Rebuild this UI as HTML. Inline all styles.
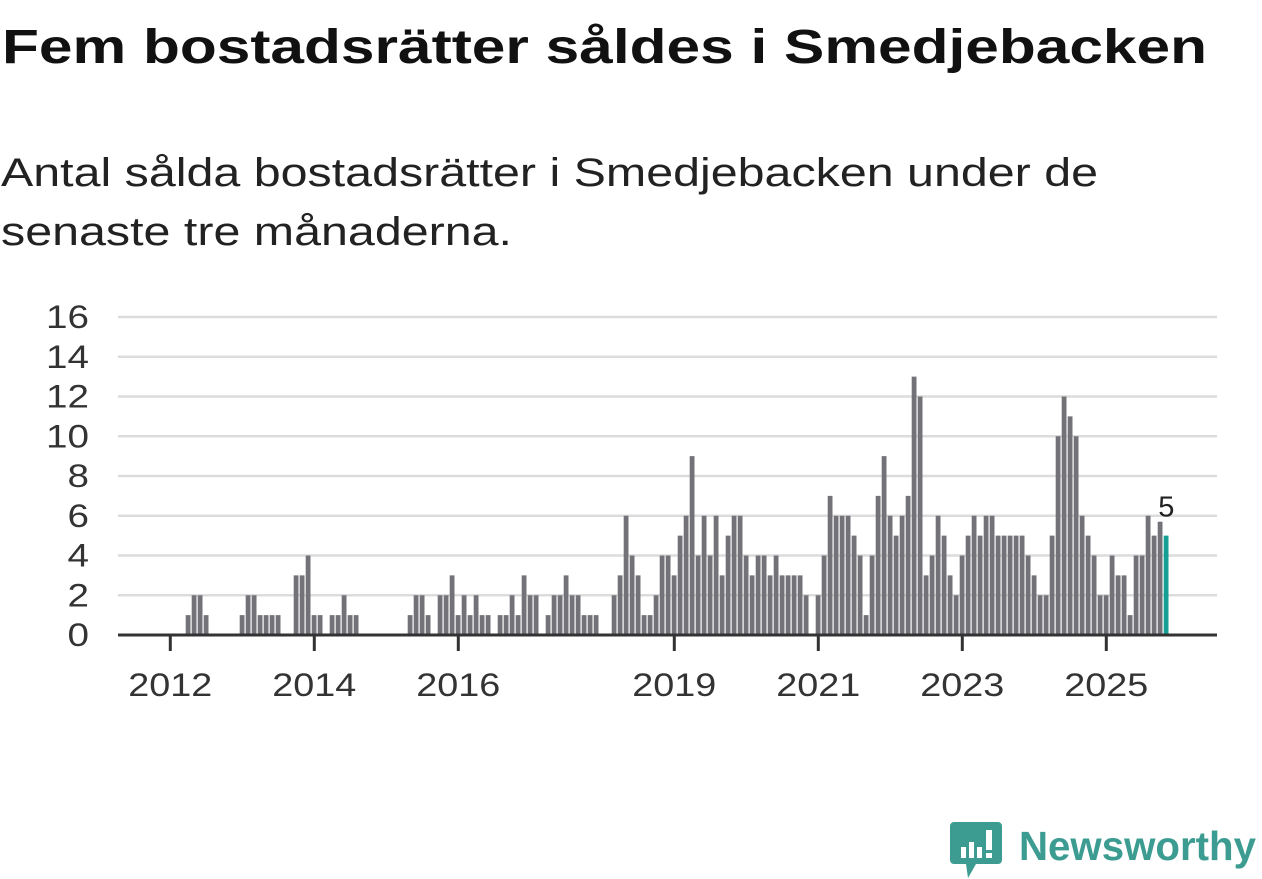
<!DOCTYPE html>
<html><head><meta charset="utf-8"><style>
html,body{margin:0;padding:0;background:#fff;}
body{width:1262px;height:879px;overflow:hidden;position:relative;font-family:"Liberation Sans",sans-serif;}
svg{position:absolute;left:0;top:0;}
</style></head><body>
<svg id="chart" width="1262" height="879" viewBox="0 0 1262 879">
  <text x="2" y="63" font-size="48" font-weight="bold" fill="#111" textLength="1205" lengthAdjust="spacingAndGlyphs">Fem bostadsrätter såldes i Smedjebacken</text>
  <text x="1" y="186" font-size="40" fill="#222" textLength="1097" lengthAdjust="spacingAndGlyphs">Antal sålda bostadsrätter i Smedjebacken under de</text>
  <text x="1" y="245" font-size="40" fill="#222" textLength="511" lengthAdjust="spacingAndGlyphs">senaste tre månaderna.</text>
  <g id="grid"></g>
  <g id="bars"></g>
  <g id="axis"></g>
  <g>
    <path d="M954 822 h44 a4 4 0 0 1 4 4 v34 a4 4 0 0 1 -4 4 h-22 l-8 14 l-2 -14 h-12 a4 4 0 0 1 -4 -4 v-34 a4 4 0 0 1 4 -4z" fill="#3d9c91"/>
    <rect x="961" y="847" width="5" height="11" fill="#fff"/>
    <rect x="969" y="842" width="5" height="16" fill="#fff"/>
    <rect x="977" y="847" width="5" height="11" fill="#fff"/>
    <rect x="986" y="830" width="6" height="20" fill="#fff"/>
    <rect x="986" y="853" width="6" height="5" fill="#fff"/>
    <text x="1019" y="860" font-size="41" font-weight="bold" fill="#3d9c91" textLength="237" lengthAdjust="spacingAndGlyphs">Newsworthy</text>
  </g>
</svg>
<script>
// monthly values, month index 0 = Jan 2012; first entry is Apr 2012 (index 3)
const startMonth = 3;
const values = [1,2,2,1,0,0,0,0,0,1,2,2,1,1,1,1,0,0,3,3,4,1,1,0,1,1,2,1,1,
0,0,0,0,0,0,0,0,1,2,2,1,0,2,2,3,1,2,1,2,1,1,0,1,1,2,1,3,2,2,0,1,2,2,3,2,2,1,1,1,0,0,
2,3,6,4,3,1,1,2,4,4,3,5,6,9,4,6,4,6,3,5,6,6,4,3,4,4,3,4,3,3,3,3,2,0,
2,4,7,6,6,6,5,4,1,4,7,9,6,5,6,7,13,12,3,4,6,5,3,2,4,5,6,5,6,6,5,5,5,5,5,4,3,2,2,5,10,12,11,10,6,5,4,2,2,4,3,3,1,4,4,6,5,5.7,5];
const yTicks = [0,2,4,6,8,10,12,14,16];
const xTickMonths = [0,24,48,84,108,132,156];
const xTickLabels = ["2012","2014","2016","2019","2021","2023","2025"];
const lastLabel = "5";

const NS = "http://www.w3.org/2000/svg";
const x0 = 170.3, pxPerMonth = 6, plotL = 118, plotR = 1217;
const y0 = 635, pxPerUnit = 19.875;
const xScale = m => x0 + pxPerMonth * m;
const yScale = v => y0 - pxPerUnit * v;
function mk(tag, attrs){const e=document.createElementNS(NS,tag);for(const k in attrs)e.setAttribute(k,attrs[k]);return e;}

const grid = document.getElementById('grid');
yTicks.forEach(t=>{
  if(t>0){
    const l = mk('line',{x1:plotL,x2:plotR,y1:yScale(t),y2:yScale(t),stroke:'#dcdcdc','stroke-width':2.5});
    
    
    grid.appendChild(l);
  }
  const s = String(t);
  const tx = mk('text',{x:89,y:yScale(t)+11,'text-anchor':'end','font-size':32,fill:'#333',textLength:s.length*21.5,lengthAdjust:'spacingAndGlyphs'});
  tx.textContent = t;
  
  
  grid.appendChild(tx);
});

const bars = document.getElementById('bars');
values.forEach((v,i)=>{
  if(v<=0) return;
  const m = startMonth + i;
  const last = i === values.length-1;
  const r = mk('rect',{x:xScale(m)-2.6,y:yScale(v),width:4.8,height:y0-yScale(v),fill: last ? '#16a095' : '#737278'});
  
  
  bars.appendChild(r);
  if(last){
    const t = mk('text',{x:xScale(m),y:yScale(v)-19,'text-anchor':'middle','font-size':29,fill:'#222'});
    t.textContent = lastLabel;
    
    
    bars.appendChild(t);
  }
});

const axis = document.getElementById('axis');
const al = mk('line',{x1:plotL,x2:plotR,y1:y0,y2:y0,stroke:'#333','stroke-width':3});


axis.appendChild(al);
xTickMonths.forEach((m,i)=>{
  const tk = mk('line',{x1:xScale(m),x2:xScale(m),y1:y0,y2:y0+16,stroke:'#333','stroke-width':3});
  
  
  axis.appendChild(tk);
  const tx = mk('text',{x:xScale(m),y:y0+61,'text-anchor':'middle','font-size':32,fill:'#333',textLength:84,lengthAdjust:'spacingAndGlyphs'});
  tx.textContent = xTickLabels[i];
  
  
  axis.appendChild(tx);
});
</script>
</body></html>
